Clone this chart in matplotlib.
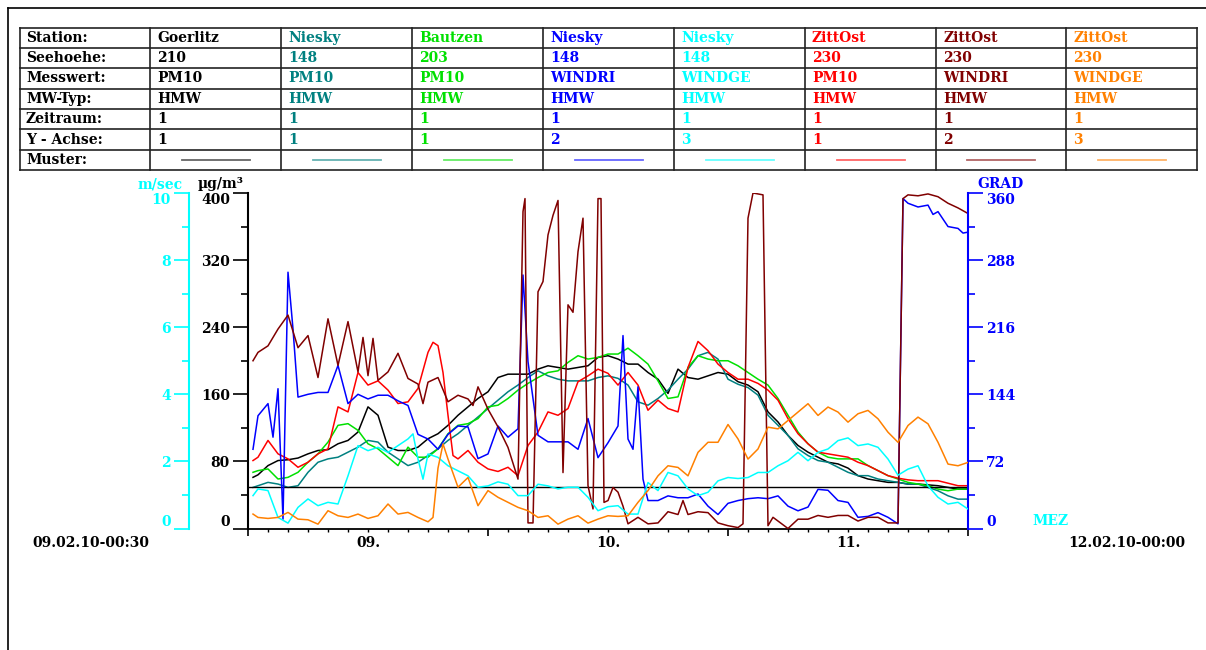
import matplotlib
matplotlib.use("Agg")
import matplotlib.pyplot as plt
from matplotlib.ticker import MultipleLocator

plt.rcParams['font.family'] = ['DejaVu Serif']
plt.rcParams['font.weight'] = 'bold'
FS = 10

# station table
row_titles = ["Station:", "Seehoehe:", "Messwert:", "MW-Typ:", "Zeitraum:", "Y - Achse:", "Muster:"]
stations = ["Goerlitz", "Niesky", "Bautzen", "Niesky", "Niesky", "ZittOst", "ZittOst", "ZittOst"]
heights = ["210", "148", "203", "148", "148", "230", "230", "230"]
params = ["PM10", "PM10", "PM10", "WINDRI", "WINDGE", "PM10", "WINDRI", "WINDGE"]
mw_types = ["HMW"] * 8
periods = ["1"] * 8
y_axes = ["1", "1", "1", "2", "3", "1", "2", "3"]
colors = ["#000000", "#008080", "#00e000", "#0000ff", "#00ffff", "#ff0000", "#800000", "#ff8000"]

# hours after 09.02.10 00:00
hours = [0.5] + list(range(1, 73))

pm_goerlitz = [61, 64, 75, 81, 82, 84, 89, 93, 94, 101, 105, 115, 145,
               135, 97, 93, 93, 97, 107, 113, 123, 135, 145, 155, 163,
               180, 184, 184, 184, 190, 194, 192, 190, 192, 194, 204, 206,
               202, 196, 196, 186, 178, 161, 190, 180, 178, 182, 186, 184,
               175, 171, 163, 139, 127, 111, 99, 91, 85, 79, 77, 72,
               63, 59, 57, 55, 55, 53, 53, 52, 51, 49, 47, 47]

pm_niesky = [49, 51, 55, 53, 49, 51, 67, 79, 83, 85, 91, 97, 105,
             103, 91, 83, 75, 79, 87, 95, 105, 113, 123, 133, 143,
             153, 163, 171, 180, 188, 182, 178, 176, 176, 176, 180, 182,
             179, 171, 151, 147, 155, 165, 178, 190, 206, 210, 202, 178,
             172, 168, 159, 135, 123, 111, 95, 87, 81, 79, 73, 67,
             63, 63, 59, 57, 55, 53, 53, 49, 45, 39, 35, 35]

pm_bautzen = [67, 69, 71, 59, 61, 67, 79, 89, 103, 123, 125, 117, 101,
              95, 85, 75, 97, 85, 85, 95, 113, 123, 125, 131, 145,
              147, 155, 165, 173, 180, 186, 188, 198, 206, 202, 204, 208,
              208, 215, 206, 196, 176, 155, 157, 192, 206, 202, 200, 200,
              194, 186, 178, 171, 155, 135, 115, 101, 91, 85, 83, 83,
              83, 75, 69, 63, 59, 55, 53, 51, 47, 45, 47, 47]

h_zitt_pm = [0.5, 1, 2, 3, 4, 5, 6, 7, 8, 9, 10, 11, 12,
             13, 14, 15, 16, 17, 18, 18.5, 19, 19.5, 20, 20.5, 21, 22, 23, 24,
             25, 26, 27, 28, 29, 30, 31, 32, 33, 34, 35, 36,
             37, 38, 39, 40, 41, 42, 43, 44, 45, 46, 47, 48,
             49, 50, 51, 52, 53, 54, 55, 56, 57, 58, 59, 60,
             61, 62, 63, 64, 65, 66, 67, 68, 69, 70, 71, 72]
pm_zitt = [81, 85, 105, 89, 83, 73, 79, 89, 95, 145, 139, 186, 171,
           176, 165, 149, 151, 167, 210, 222, 218, 186, 135, 87, 83, 93, 79, 71,
           68, 73, 63, 99, 115, 139, 135, 143, 175, 182, 190, 185,
           171, 186, 171, 141, 153, 143, 139, 192, 223, 212, 196, 186,
           178, 178, 173, 165, 153, 131, 113, 101, 91, 89, 87, 85,
           79, 75, 69, 63, 60, 58, 57, 57, 57, 54, 51, 51]

h_niesky_ws = [0.5, 1, 2, 3, 4, 5, 6, 7, 8, 9, 10, 11, 12,
               13, 14, 15, 16, 16.5, 17, 17.5, 18, 19, 20, 21, 22, 23, 24,
               25, 26, 27, 28, 29, 30, 31, 32, 33, 34, 35, 36,
               37, 38, 39, 40, 41, 42, 43, 44, 45, 46, 47, 48,
               49, 50, 51, 52, 53, 54, 55, 56, 57, 58, 59, 60,
               61, 62, 63, 64, 65, 66, 67, 68, 69, 70, 71, 72]
ws_niesky = [0.98, 1.18, 1.13, 0.33, 0.16, 0.63, 0.88, 0.68, 0.78, 0.73, 1.57, 2.47, 2.32,
             2.42, 2.27, 2.47, 2.67, 2.82, 2.07, 1.47, 2.22, 2.12, 1.87, 1.72, 1.57, 1.23, 1.27,
             1.39, 1.32, 0.98, 0.98, 1.32, 1.27, 1.18, 1.23, 1.23, 0.93, 0.53, 0.65,
             0.68, 0.43, 0.43, 1.37, 1.13, 1.67, 1.57, 1.18, 0.98, 1.08, 1.42, 1.52,
             1.49, 1.52, 1.67, 1.67, 1.87, 2.02, 2.27, 2.02, 2.27, 2.37, 2.62, 2.70,
             2.47, 2.52, 2.42, 2.07, 1.59, 1.77, 1.87, 1.27, 0.93, 0.73, 0.78, 0.58]

h_zitt_ws = [0.5, 1, 2, 3, 4, 5, 6, 7, 8, 9, 10, 11, 12,
             13, 14, 15, 16, 17, 18, 18.5, 19, 19.5, 20, 21, 22, 23, 24,
             25, 26, 27, 28, 29, 30, 31, 32, 33, 34, 35, 36,
             37, 38, 39, 40, 41, 42, 43, 44, 45, 46, 47, 48,
             49, 50, 51, 52, 53, 54, 55, 56, 57, 58, 59, 60,
             61, 62, 63, 64, 65, 66, 67, 68, 69, 70, 71, 72]
ws_zitt = [0.43, 0.33, 0.30, 0.33, 0.48, 0.28, 0.26, 0.13, 0.53, 0.38, 0.33, 0.43, 0.30,
           0.38, 0.73, 0.43, 0.48, 0.33, 0.20, 0.33, 1.80, 2.52, 2.07, 1.23, 1.52, 0.68, 1.13,
           0.93, 0.78, 0.63, 0.53, 0.33, 0.38, 0.13, 0.28, 0.38, 0.16, 0.28, 0.38,
           0.36, 0.38, 0.78, 1.13, 1.57, 1.87, 1.82, 1.57, 2.27, 2.57, 2.57, 3.10,
           2.67, 2.07, 2.37, 3.02, 2.97, 3.22, 3.47, 3.72, 3.37, 3.62, 3.47, 3.17,
           3.42, 3.52, 3.27, 2.87, 2.57, 3.07, 3.32, 3.12, 2.57, 1.92, 1.87, 1.97]

h_niesky_wd = [0.5, 1, 2, 2.5, 3, 3.5, 4, 4.5, 5, 6, 7, 8, 9, 10, 11, 12,
               13, 14, 15, 16, 17, 18, 19, 20, 21, 22, 23, 24,
               25, 26, 27, 27.5, 28, 29, 30, 31, 32, 33, 34, 35, 36,
               37, 37.5, 38, 38.5, 39, 39.5, 40, 41, 42, 43, 44, 45, 46, 47, 48,
               49, 50, 51, 52, 53, 54, 55, 56, 57, 58, 59, 60,
               61, 62, 63, 64, 65, 65.5, 66, 67, 68, 68.5, 69, 69.5, 70, 71, 71.5, 72]
wd_niesky = [85, 121, 134, 98, 150, 10, 275, 214, 141, 144, 146, 146, 175, 134, 144, 139,
             143, 143, 137, 132, 101, 96, 85, 101, 110, 109, 75, 80,
             110, 98, 107, 272, 179, 100, 93, 93, 93, 85, 118, 76, 92,
             110, 207, 96, 85, 152, 53, 30, 30, 35, 33, 33, 37, 24, 15, 27,
             30, 32, 33, 32, 35, 24, 19, 23, 42, 41, 30, 28,
             12, 13, 17, 12, 5, 354, 349, 345, 347, 337, 340, 332, 324, 322, 317, 318]

h_zitt_wd = [0.5, 1, 2, 3, 4, 5, 6, 7, 8, 9, 10, 11, 11.5, 12, 12.5,
             13, 14, 15, 16, 17, 17.5, 18, 19, 20, 21, 22, 22.5, 23, 24,
             25, 26, 27, 27.5, 27.7, 28, 28.5, 29, 29.5, 30, 30.5, 31, 31.5,
             32, 32.5, 33, 33.5, 34, 34.5, 35, 35.3, 35.6, 36,
             36.5, 37, 37.5, 38, 39, 40, 41, 42, 43, 43.5, 44, 45, 46, 47, 48,
             49, 49.5, 50, 50.5, 51, 51.5, 52, 52.5, 53, 54, 55, 56, 57, 58, 59, 60,
             61, 62, 63, 64, 65, 65.5, 66, 67, 68, 69, 70, 71, 72]
wd_zitt = [180, 189, 196, 214, 229, 194, 207, 162, 225, 175, 222, 168, 205, 164, 204,
           159, 168, 188, 161, 155, 134, 157, 162, 136, 143, 139, 132, 152, 128,
           109, 87, 53, 340, 354, 6, 6, 254, 265, 315, 336, 352, 60,
           240, 232, 297, 333, 46, 21, 354, 354, 28, 30,
           44, 39, 24, 5, 12, 5, 6, 18, 15, 30, 15, 18, 17, 6, 3,
           1, 5, 333, 360, 359, 358, 3, 12, 8, 0, 10, 10, 14, 12, 14, 14,
           8, 12, 12, 6, 6, 354, 358, 357, 359, 356, 349, 344, 338]

pm_limit = 50
day_labels = ["09.", "10.", "11."]

fig = plt.figure(figsize=(12.06, 6.5), dpi=100)

# pixel-coordinate overlay for the table and loose labels
over = fig.add_axes([0, 0, 1, 1])
over.set_xlim(0, 1206)
over.set_ylim(650, 0)
over.axis('off')

over.plot([8, 8], [8, 650], color='black', lw=1.2)
over.plot([8, 1206], [8, 8], color='black', lw=1.2)

col_x = [20, 150, 281, 412, 543, 674, 805, 936, 1066, 1197]
row_y = [28, 48, 68, 89, 109, 129, 150, 170]
for x in col_x:
    over.plot([x, x], [row_y[0], row_y[-1]], color='#222222', lw=1.2)
for y in row_y:
    over.plot([col_x[0], col_x[-1]], [y, y], color='#222222', lw=1.2)

rows = [stations, heights, params, mw_types, periods, y_axes]
for r, title in enumerate(row_titles):
    yc = (row_y[r] + row_y[r + 1]) / 2
    over.text(col_x[0] + 6, yc, title, ha='left', va='center', fontsize=FS, color='black')
    for c in range(8):
        if r < 6:
            over.text(col_x[c + 1] + 7, yc, rows[r][c], ha='left', va='center',
                      fontsize=FS, color=colors[c])
        else:
            xm = (col_x[c + 1] + col_x[c + 2]) / 2
            over.plot([xm - 34, xm + 34], [yc, yc], color=colors[c], lw=1.3, alpha=0.6)

# main axes: PM10 in µg/m³
ax = fig.add_axes([248 / 1206, (650 - 528.5) / 650, 720 / 1206, 335.5 / 650])
ax_g = ax.twinx()
ax_w = ax.twinx()

ax.plot(hours, pm_goerlitz, color=colors[0], lw=1.1)
ax.plot(hours, pm_niesky, color=colors[1], lw=1.1)
ax.plot(hours, pm_bautzen, color=colors[2], lw=1.1)
ax.plot(h_zitt_pm, pm_zitt, color=colors[5], lw=1.1)
ax.axhline(pm_limit, color='black', lw=1.0)

ax_g.plot(h_niesky_wd, wd_niesky, color=colors[3], lw=1.1)
ax_g.plot(h_zitt_wd, wd_zitt, color=colors[6], lw=1.1)

ax_w.plot(h_niesky_ws, ws_niesky, color=colors[4], lw=1.1)
ax_w.plot(h_zitt_ws, ws_zitt, color=colors[7], lw=1.1)

for a in (ax, ax_g, ax_w):
    a.set_xlim(0, 72)
    a.patch.set_visible(False)
    for s in a.spines.values():
        s.set_visible(False)

ax.set_ylim(0, 400)
ax_g.set_ylim(0, 360)
ax_w.set_ylim(0, 10)

# x axis: two-hour ticks, day labels at noon
ax.spines['bottom'].set_visible(True)
ax.spines['bottom'].set_linewidth(1.3)
ax.set_xticks([0, 24, 48, 72], labels=[])
ax.xaxis.set_minor_locator(MultipleLocator(2))
ax.tick_params(axis='x', which='major', length=5, width=1.2, direction='out')
ax.tick_params(axis='x', which='minor', length=2.5, width=1.0, direction='out')
for i, lab in enumerate(day_labels):
    ax.text(12 + 24 * i, -0.043, lab, transform=ax.get_xaxis_transform(),
            ha='center', va='center', fontsize=FS)


def style_y(a, side, color, ticks, minor, offset=0):
    sp = a.spines[side]
    sp.set_visible(True)
    sp.set_color(color)
    sp.set_linewidth(1.5)
    if offset:
        sp.set_position(('outward', offset))
    a.yaxis.set_ticks_position(side)
    a.set_yticks(ticks, labels=[str(t) for t in ticks])
    a.yaxis.set_minor_locator(MultipleLocator(minor))
    a.tick_params(axis='y', which='major', length=11, width=1.2, color=color,
                  labelcolor=color, labelsize=FS, pad=2)
    a.tick_params(axis='y', which='minor', length=5, width=1.2, color=color)
    labs = a.get_yticklabels()
    labs[0].set_va('bottom')
    labs[-1].set_va('top')


style_y(ax, 'left', 'black', [0, 80, 160, 240, 320, 400], 40)
style_y(ax_g, 'right', '#0000ff', [0, 72, 144, 216, 288, 360], 36)
style_y(ax_w, 'left', '#00ffff', [0, 2, 4, 6, 8, 10], 1, offset=42.5)
ax_w.tick_params(axis='x', which='both', bottom=False, labelbottom=False)
ax_g.tick_params(axis='x', which='both', bottom=False, labelbottom=False)

# axis titles and time range
over.text(160, 184, "m/sec", ha='center', va='center', fontsize=FS, color='#00ffff')
over.text(221, 184, "µg/m³", ha='center', va='center', fontsize=FS, color='black')
over.text(1000, 184, "GRAD", ha='center', va='center', fontsize=FS, color='#0000ff')
over.text(1050, 521, "MEZ", ha='center', va='center', fontsize=FS, color='#00ffff')
over.text(91, 543, "09.02.10-00:30", ha='center', va='center', fontsize=FS)
over.text(1127, 543, "12.02.10-00:00", ha='center', va='center', fontsize=FS)

fig.savefig("out.png", dpi=100)
